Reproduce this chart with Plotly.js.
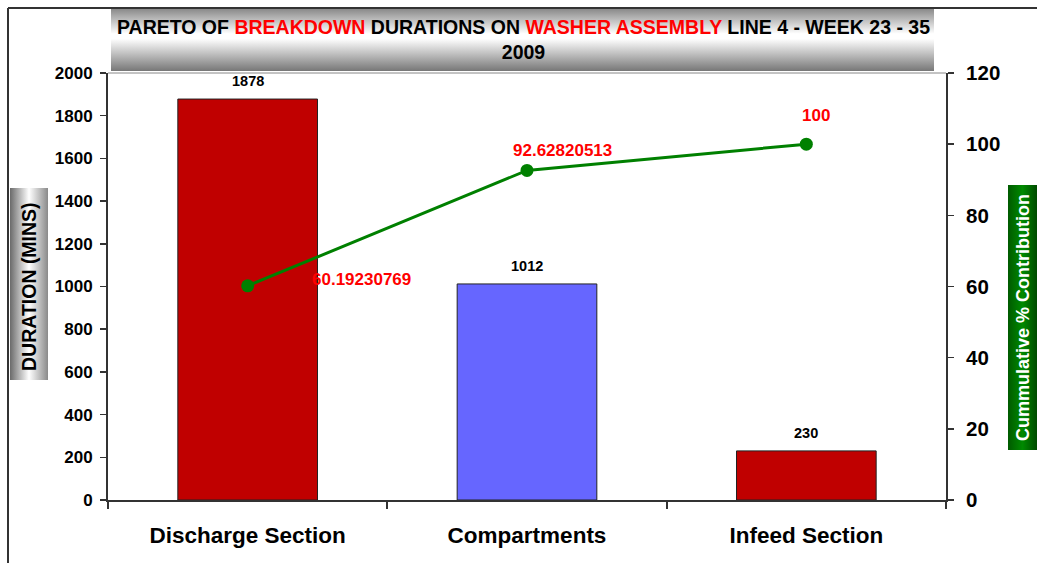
<!DOCTYPE html>
<html>
<head>
<meta charset="utf-8">
<script src="https://cdn.plot.ly/plotly-3.0.1.min.js"></script>
<style>
html,body{margin:0;padding:0;background:#fff;}
#wrap{position:relative;width:1037px;height:565px;overflow:hidden;}
.bg{position:absolute;}
#titlebox{left:111px;top:9px;width:823px;height:62px;background:linear-gradient(to bottom,#8a8a8a 0%,#ffffff 40%,#ffffff 48%,#777777 100%);}
#ybox{left:10px;top:188px;width:38px;height:192px;background:linear-gradient(to right,#6a6a6a 0%,#ffffff 50%,#8a8a8a 100%);}
#y2box{left:1008px;top:185px;width:29px;height:265px;background:linear-gradient(to right,#005a00 0%,#008a00 50%,#004a00 100%);}
#chart{position:absolute;left:0;top:0;width:1037px;height:565px;}
</style>
</head>
<body>
<div id="wrap">
<div class="bg" id="titlebox"></div>
<div class="bg" id="ybox"></div>
<div class="bg" id="y2box"></div>
<div id="chart"></div>
</div>
<script>
const categories = ["Discharge Section", "Compartments", "Infeed Section"];
const durations = [1878, 1012, 230];
const cumulative = [60.19230769, 92.62820513, 100];
const cumulativeLabels = ["60.19230769", "92.62820513", "100"];
const barColors = ["#C00000", "#6666FF", "#C00000"];
const yTicks = [0, 200, 400, 600, 800, 1000, 1200, 1400, 1600, 1800, 2000];
const y2Ticks = [0, 20, 40, 60, 80, 100, 120];

// plot area in pixels
const L = 108, R = 946, T = 73, B = 500;
const px = x => (x - L) / (R - L);
const py = y => (B - y) / (B - T);

const bars = {
  type: 'bar', x: categories, y: durations,
  marker: {color: barColors, line: {color: '#222', width: 1}},
  width: 0.5, hoverinfo: 'x+y', showlegend: false
};
const line = {
  type: 'scatter', mode: 'lines+markers', x: categories, y: cumulative, yaxis: 'y2',
  line: {color: '#008000', width: 3}, marker: {color: '#008000', size: 13},
  showlegend: false
};

const annotations = [];
durations.forEach((v, i) => annotations.push({
  x: categories[i], y: v, xref: 'x', yref: 'y', text: String(v), showarrow: false,
  xanchor: 'center', yanchor: 'bottom', yshift: 8,
  font: {family: 'Liberation Sans, Arial', size: 14.5, color: '#000', weight: 'bold'}
}));
const lblShift = [[114, 6], [35, 20], [10, 29]];
cumulative.forEach((v, i) => annotations.push({
  x: categories[i], y: v, xref: 'x', yref: 'y2', text: cumulativeLabels[i], showarrow: false,
  xanchor: 'center', yanchor: 'middle', xshift: lblShift[i][0], yshift: lblShift[i][1],
  font: {family: 'Liberation Sans, Arial', size: 17, color: '#FF0000', weight: 'bold'}
}));
annotations.push({
  xref: 'paper', yref: 'paper', x: px(29), y: py(287), xanchor: 'center', yanchor: 'middle',
  text: 'DURATION (MINS)', textangle: -90,
  showarrow: false, font: {family: 'Liberation Sans, Arial', size: 19.5, color: '#000', weight: 'bold'}
});
annotations.push({
  xref: 'paper', yref: 'paper', x: px(1023), y: py(318), xanchor: 'center', yanchor: 'middle',
  text: 'Cummulative % Contribution', textangle: -90,
  showarrow: false, font: {family: 'Liberation Sans, Arial', size: 18, color: '#fff', weight: 'bold'}
});
annotations.push({
  xref: 'paper', yref: 'paper', x: px(523), y: py(40), xanchor: 'center', yanchor: 'middle', text:
  'PARETO OF <span style="color:#FF0000">BREAKDOWN</span> DURATIONS ON <span style="color:#FF0000">WASHER ASSEMBLY</span> LINE 4 - WEEK 23 - 35<br>2009',
  showarrow: false, font: {family: 'Liberation Sans Narrow, Liberation Sans, Arial', size: 19.5, color: '#000', weight: 'bold'},
  align: 'center'
});

const layout = {
  width: 1037, height: 565,
  margin: {l: L, r: 1037 - R, t: T, b: 565 - B, pad: 0},
  paper_bgcolor: 'rgba(0,0,0,0)', plot_bgcolor: 'rgba(0,0,0,0)',
  xaxis: {
    type: 'category', showline: true, linecolor: '#333', linewidth: 2,
    ticks: 'outside', tickson: 'boundaries', ticklen: 7, tickcolor: '#333', tickwidth: 2,
    ticklabelstandoff: 14,
    tickfont: {family: 'Liberation Sans, Arial', size: 22.5, color: '#000', weight: 'bold'},
    showgrid: false, zeroline: false, fixedrange: true
  },
  yaxis: {
    range: [0, 2000], tickvals: yTicks, ticktext: yTicks.map(String),
    showline: true, linecolor: '#333', linewidth: 2, ticks: 'outside', ticklen: 6,
    tickcolor: '#333', tickwidth: 1.5, ticklabelstandoff: 4,
    tickfont: {family: 'Liberation Sans, Arial', size: 17, color: '#000', weight: 'bold'},
    showgrid: false, zeroline: false
  },
  yaxis2: {
    range: [0, 120], tickvals: y2Ticks, ticktext: y2Ticks.map(String), overlaying: 'y', side: 'right',
    showline: true, linecolor: '#333', linewidth: 2, ticks: 'outside', ticklen: 6,
    tickcolor: '#333', tickwidth: 1.5, ticklabelstandoff: 8,
    tickfont: {family: 'Liberation Sans, Arial', size: 20.5, color: '#000', weight: 'bold'},
    showgrid: false, zeroline: false
  },
  annotations: annotations,
  shapes: [
    {type: 'line', xref: 'paper', yref: 'paper', x0: px(8), x1: px(1037), y0: py(8), y1: py(8), line: {color: '#333', width: 2}},
    {type: 'line', xref: 'paper', yref: 'paper', x0: px(8), x1: px(8), y0: py(8), y1: py(563), line: {color: '#333', width: 2}},
    {type: 'line', xref: 'paper', yref: 'paper', x0: 0, x1: 1, y0: 1, y1: 1, line: {color: '#888', width: 1}}
  ],
  bargap: 0.5
};
Plotly.newPlot('chart', [bars, line], layout, {displayModeBar: false, staticPlot: true});
</script>
</body>
</html>
